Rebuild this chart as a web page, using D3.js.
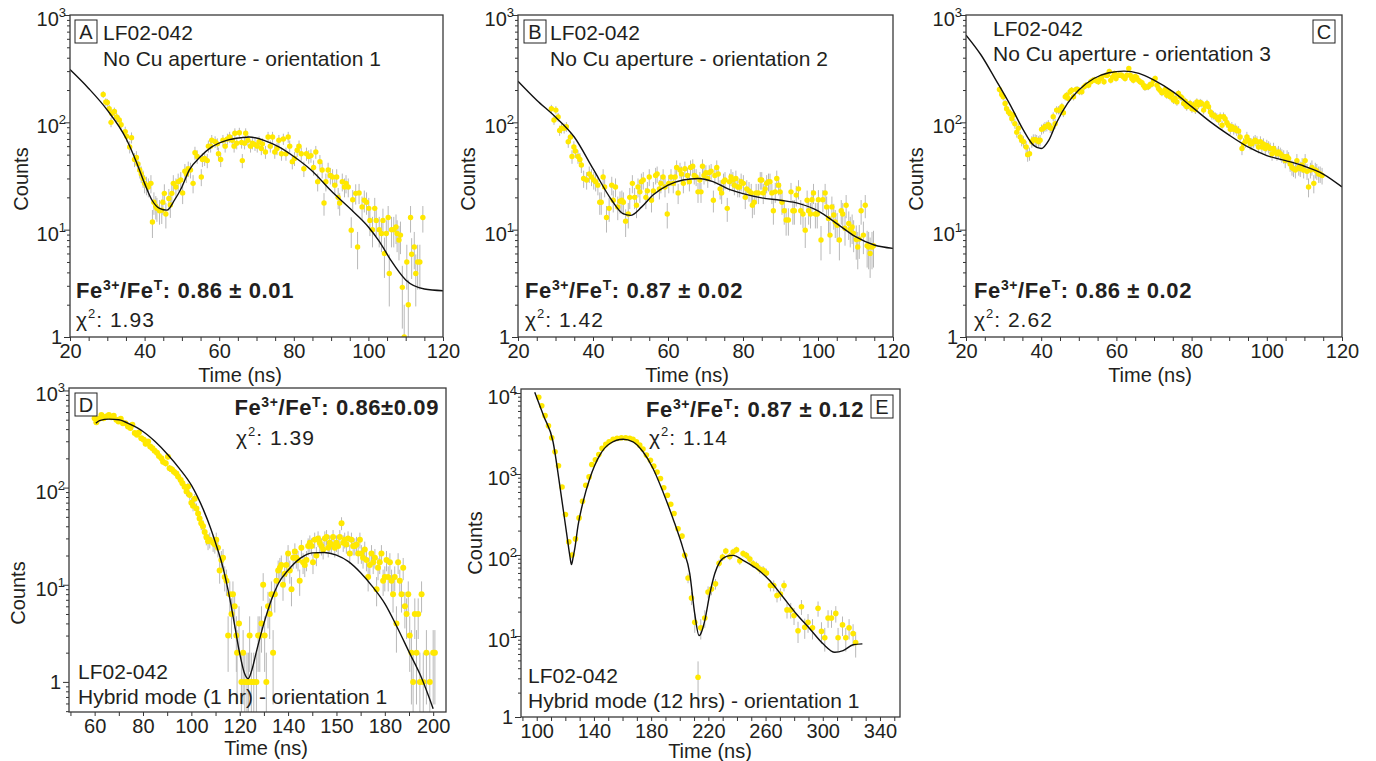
<!DOCTYPE html>
<html>
<head>
<meta charset="utf-8">
<script src="https://cdn.jsdelivr.net/npm/d3@7"></script>
<style>
  body { margin: 0; background: #fff; }
  svg text { font-family: "Liberation Sans", Arial, Helvetica, sans-serif; fill: #231f20; }
</style>
</head>
<body>
<svg id="chart" width="1376" height="761"></svg>
<script>
'use strict'

// ---- data: [time (ns), counts] ----
const pointsA = [[28.9,182],[29.6,155],[30.0,153],[30.5,134],[31.0,100],[31.2,121],[31.9,126],[32.5,112],[33.2,105],[33.7,95],[34.8,82],[35.2,74],[36.0,59],[36.5,72],[37.3,45],[37.8,47],[38.2,41],[38.7,36],[39.1,33],[39.6,30],[40.0,27],[40.5,26],[41.0,25],[41.7,27],[42.1,11.8],[42.5,18],[43.0,16.5],[43.3,15.8],[44.0,15],[44.6,15.2],[44.9,18],[45.3,21.8],[45.7,14],[46.5,19.5],[46.9,17],[47.3,21.8],[47.7,27],[48.4,25],[49.0,28],[49.7,29],[50.2,22],[50.8,35],[51.2,33],[51.7,37],[52.3,36],[53.0,27],[53.5,52],[54.1,48],[55.2,31],[55.5,45],[56.1,46],[56.8,44],[57.1,60],[57.7,60],[58.0,68],[58.9,66],[59.5,63],[59.8,51],[60.4,45],[61.0,68],[61.6,60],[62.2,70],[62.8,73],[63.5,68],[64.0,60],[64.2,79],[64.7,64],[65.4,80],[66.0,65],[66.2,44],[66.8,64],[67.1,79],[67.7,68],[68.4,60],[68.9,64],[69.6,62],[70.2,60],[70.7,66],[71.3,57],[71.6,63],[72.4,53],[73.1,73],[73.7,60],[74.3,73],[74.9,53],[75.5,57],[76.0,68],[76.7,51],[77.2,70],[77.9,51],[78.5,73],[78.9,60],[79.6,43],[80.2,46],[80.9,55],[81.4,60],[82.0,51],[82.7,37],[83.4,51],[84.0,48],[84.6,49],[85.3,38],[85.9,53],[86.4,28],[87.0,43],[87.6,36],[88.1,17.7],[88.6,28],[89.2,36],[89.8,32],[90.4,31],[91.0,26],[91.5,31],[91.9,20],[92.3,17.7],[93.0,28],[93.6,25],[94.0,27],[94.6,25],[95.4,9.9],[95.8,19],[96.6,21.8],[97.1,6.9],[97.5,22],[98.3,16.3],[98.9,18.8],[99.5,18],[100.1,15.8],[100.4,12.2],[101.1,10],[101.7,15.8],[102.1,12.2],[102.9,10],[103.5,9.2],[103.9,12.2],[104.3,6],[104.8,9.2],[105.3,13],[105.6,3.9],[106.2,10],[106.8,10],[107.4,10.6],[107.7,9.2],[108.2,8],[108.6,8.9],[109.1,2.9],[109.6,1.0],[110.3,5],[110.7,2.0],[111.3,13],[111.6,5.9],[112.3,6.9],[112.7,3.9],[113.2,5],[113.8,5],[114.6,13]];

const fitA = [[20,310],[25,207],[30,130],[35,71],[38,41],[40,27],[42,18.8],[44,15.8],[46,15.2],[48,18.8],[50,25],[52,36],[55,48],[58,59],[62,68],[66,72],[68,73],[72,68],[76,59],[80,48],[85,35],[90,23],[95,15.8],[100,10.6],[103,7.7],[106,5.2],[110,3.4],[115,2.8],[120,2.7]];

const pointsB = [[28.9,134],[29.6,105],[30.1,130],[30.7,112],[31.1,84],[31.6,88],[32.3,88],[32.9,91],[33.4,66],[34.0,73],[34.4,48],[34.9,59],[35.3,54],[36.0,48],[36.5,45],[36.9,40],[37.5,30],[38.3,29],[39.0,33],[39.6,31],[40.2,29],[40.7,28],[41.3,26],[41.8,18],[42.2,18],[42.7,31],[43.1,25],[43.6,13],[44.3,15.8],[45.0,26],[45.4,18.8],[46.0,25],[46.6,16.3],[47.2,18.4],[47.7,18.8],[48.1,18],[48.7,12],[49.4,14],[49.8,20],[50.5,27],[51.1,20],[51.6,16.9],[52.0,25],[52.5,22.5],[52.9,28],[53.4,29],[54.1,20],[54.5,23],[55.0,31],[55.6,18.8],[56.1,23],[56.7,32],[57.1,33],[57.7,24],[58.1,27],[58.7,31],[59.2,25],[59.8,14],[60.2,27],[60.8,31],[61.4,27],[61.9,31],[62.3,38],[62.7,22],[63.2,36],[63.6,33],[64.1,27],[64.5,37],[65.2,32],[65.7,28],[66.0,38],[66.6,39],[67.0,32],[67.5,31],[68.0,22.5],[68.5,29],[68.8,22.5],[69.2,39],[69.6,32],[70.1,34],[70.6,30],[71.0,34],[71.5,35],[72.1,18.8],[72.5,32],[73.0,38],[73.4,33],[73.9,24],[74.3,22],[74.8,28],[75.2,29],[75.8,15.8],[76.4,28],[76.8,31],[77.3,29],[77.7,26],[78.1,30],[78.6,25],[79.1,25],[79.5,28],[80.1,27],[80.6,20],[81.0,24],[81.6,23],[82.2,22],[82.5,16.9],[83.0,18],[83.5,22],[84.1,22],[84.6,29],[85.0,29],[85.4,22],[85.9,24],[86.3,27],[86.8,28],[87.2,28],[87.7,22],[88.1,15],[88.6,22.5],[89.0,30],[89.5,26],[89.9,22.5],[90.4,18],[91.0,15],[91.5,12.3],[92.1,12.3],[92.8,22.5],[93.3,15],[93.7,15],[94.2,21],[94.8,24],[95.4,15],[96.0,14],[96.6,9.9],[97.1,18.8],[97.5,15],[98.0,14],[98.4,19],[98.8,22],[99.3,14],[99.8,14],[100.1,19],[100.8,8],[101.3,19],[101.9,22],[102.3,16.3],[102.8,12.7],[103.2,8.9],[103.7,16.3],[104.2,13.7],[104.6,11.8],[105.1,11],[105.7,8],[106.2,15],[106.6,14],[107.2,10.3],[107.5,16.9],[108.2,11.4],[108.6,10],[109.1,10.6],[109.5,9.2],[110.2,8.1],[110.6,6.9],[111.0,8.2],[111.5,15],[112.1,8.9],[112.6,16.9],[113.1,7.1],[113.5,6.9],[113.9,6],[114.4,6.9],[114.8,7.1]];

const fitB = [[20,242],[25,161],[30,112],[35,73],[40,37],[45,18.8],[48,14.1],[50,13.6],[53,16.3],[56,21],[60,26],[64,29],[68,30],[72,28],[76,24],[80,21.7],[85,19.8],[90,18.8],[95,17.5],[100,15],[105,11.4],[110,8.6],[115,7.2],[120,6.7]];

const pointsC = [[28.9,202],[29.5,182],[29.9,173],[30.4,150],[30.8,134],[31.3,125],[31.7,121],[32.2,108],[32.6,117],[33.0,97],[33.5,81],[33.9,88],[34.4,73],[34.8,68],[35.3,66],[36.0,59],[36.4,50],[36.9,51],[37.5,66],[37.9,69],[38.4,69],[38.8,68],[39.3,66],[39.7,68],[40.1,86],[40.6,88],[41.0,91],[41.5,92],[41.9,95],[42.4,89],[42.8,88],[43.2,113],[43.7,97],[44.1,130],[44.6,130],[45.0,130],[45.5,140],[45.9,123],[46.4,173],[46.8,179],[47.2,167],[47.7,193],[48.1,199],[48.6,173],[49.3,202],[49.7,202],[50.2,193],[50.8,193],[51.4,214],[51.9,222],[52.6,222],[53.2,239],[53.7,246],[54.2,250],[54.8,243],[55.2,239],[55.7,256],[56.1,265],[56.7,239],[57.3,275],[57.6,275],[58.1,298],[58.5,246],[59.0,265],[59.5,285],[59.9,256],[60.6,275],[61.0,275],[61.4,275],[61.9,265],[62.3,256],[62.8,275],[63.3,318],[63.7,275],[64.1,256],[64.5,246],[65.0,267],[65.4,262],[65.9,246],[66.3,239],[66.8,234],[67.2,222],[67.6,211],[68.1,214],[68.5,214],[69.0,226],[69.4,226],[69.9,246],[70.3,256],[70.8,222],[71.2,207],[71.6,199],[72.1,189],[72.5,193],[73.0,202],[73.4,179],[73.9,193],[74.3,173],[74.7,182],[75.2,161],[75.6,167],[76.1,155],[76.5,186],[77.0,173],[77.4,170],[77.9,150],[78.3,157],[78.7,140],[79.2,145],[79.6,150],[80.1,134],[80.5,145],[81.0,131],[81.4,155],[81.8,145],[82.3,153],[82.7,150],[83.2,130],[83.6,142],[84.1,150],[84.5,140],[85.0,125],[85.4,117],[85.8,117],[86.3,113],[86.7,111],[87.2,105],[87.6,113],[88.1,94],[88.5,113],[88.9,108],[89.4,99],[89.8,94],[90.3,86],[90.7,91],[91.2,86],[91.6,88],[92.0,84],[92.5,83],[92.9,73],[93.4,57],[93.8,63],[94.3,66],[94.7,73],[95.2,68],[95.6,63],[96.0,63],[96.5,66],[96.9,68],[97.4,66],[97.8,59],[98.3,66],[98.7,59],[99.1,63],[99.6,57],[100.0,61],[100.5,59],[100.9,57],[101.4,51],[101.8,57],[102.3,53],[102.7,51],[103.1,53],[103.6,51],[104.0,49],[104.5,48],[104.9,44],[105.4,48],[105.8,46],[106.2,41],[106.7,38],[107.1,37],[107.6,36],[108.0,44],[108.5,38],[108.9,37],[109.4,40],[109.8,36],[110.2,44],[110.7,35],[111.1,25],[111.6,36],[112.0,38],[112.5,27],[112.9,36],[113.3,35],[113.8,33],[114.2,33],[114.7,32]];

const fitC = [[20,650],[24,424],[28,246],[32,140],[35,88],[38,61],[40,57],[42,68],[44,98],[47,150],[50,200],[54,256],[58,290],[62,300],[66,286],[70,247],[75,193],[80,140],[85,101],[90,76],[95,59],[100,49],[105,44],[110,39],[115,33],[120,25]];

const pointsD = [[60.0,519],[60.7,470],[61.8,510],[62.8,560],[63.7,519],[64.8,540],[65.9,560],[66.9,530],[67.9,550],[69.0,500],[69.9,480],[70.8,510],[71.7,460],[72.7,460],[73.8,425],[74.8,410],[75.6,444],[76.6,364],[77.5,350],[78.3,370],[79.3,323],[80.3,310],[81.1,282],[82.1,298],[83.0,265],[83.9,254],[84.8,240],[85.8,229],[86.6,211],[87.6,200],[88.3,185],[89.4,178],[90.3,208],[91.0,158],[92.0,154],[92.8,146],[93.8,140],[94.5,130],[95.6,120],[96.3,111],[97.2,102],[98.0,91],[98.6,102],[99.3,84],[100.0,70],[100.7,65],[101.4,77],[102.1,61],[102.8,54],[103.4,48],[104.1,43],[104.8,40],[105.5,35],[106.2,31],[106.9,28],[107.6,29],[109.0,27],[109.7,26],[110.3,29],[111.0,24],[111.7,14],[112.4,18],[113.1,19],[113.8,12],[114.5,11],[115.2,3],[115.9,8],[116.6,5],[117.2,8],[117.9,6],[118.6,3],[118.9,2],[119.7,4],[120.7,1],[121.4,2],[122.1,1],[123.0,1],[123.6,1],[124.1,3],[124.8,1],[125.8,1],[126.9,1],[127.6,3],[128.3,3],[129.0,4],[129.7,10],[130.3,3],[131.0,1],[131.7,6],[132.4,5],[133.1,8],[133.8,2],[134.5,8],[135.2,11],[135.9,14],[136.6,15],[137.2,16],[137.9,10],[138.6,13],[139.3,16],[140.0,21],[140.7,14],[141.4,9],[142.1,19],[142.8,22],[143.4,19],[144.1,18],[144.8,11],[145.5,24],[146.2,17],[146.9,16],[147.6,18],[148.3,25],[149.0,27],[149.7,25],[150.3,17],[151.0,29],[151.7,20],[152.4,30],[153.1,27],[153.8,25],[154.5,23],[155.2,30],[155.9,31],[156.6,24],[157.2,27],[157.9,26],[158.6,31],[159.3,24],[160.0,27],[160.7,25],[161.4,31],[162.1,43],[162.8,27],[163.4,29],[164.1,26],[164.8,30],[165.5,21],[166.2,29],[166.9,25],[167.6,25],[168.3,26],[169.0,21],[169.7,29],[170.3,21],[171.0,19],[171.7,23],[172.4,18],[173.1,12],[173.8,16],[174.5,21],[175.2,17],[175.9,19],[176.6,9],[177.2,15],[177.9,17],[178.6,21],[179.3,11],[180.0,12],[180.7,18],[181.4,12],[182.1,17],[182.8,11],[183.4,8],[184.1,12],[184.8,4],[185.5,17],[186.2,11],[186.9,8],[187.6,15],[188.3,6],[189.0,5],[189.7,8],[190.3,3],[191.0,2],[191.7,1],[192.4,5],[193.1,2],[193.8,5],[194.5,1],[195.2,8],[195.9,1],[197.2,2],[198.6,1],[200.0,2],[200.7,2]];

const fitD = [[60.5,460],[62,490],[66,507],[70,500],[75,444],[80,378],[85,298],[90,222],[95,158],[100,106],[105,59],[108,38],[110,27],[113,15.3],[116,7],[118,3.7],[120,1.96],[122,1.22],[123.5,1.08],[125,1.32],[127,2.1],[130,4],[133,6.9],[136,10.3],[140,14.1],[145,18.7],[150,21.3],[155,21.5],[160,20.2],[165,17.3],[170,13.3],[175,9.5],[180,6.4],[185,3.7],[190,2.04],[195,1.13],[200,0.53]];

const pointsE = [[101.4,8850],[103.5,6960],[105.8,5250],[108.2,3930],[110.5,2800],[112.8,1880],[115.2,1260],[117.7,692],[120.1,316],[122.4,145],[124.7,100],[127.1,158],[129.6,287],[132.0,460],[134.3,725],[136.6,920],[138.5,1310],[141.0,1500],[143.4,1740],[145.7,2070],[148.3,2320],[150.6,2500],[153.4,2680],[156.2,2750],[159.2,2800],[162.2,2800],[165.0,2750],[167.3,2680],[169.7,2500],[172.0,2270],[174.3,2030],[176.7,1710],[179.5,1480],[181.8,1250],[184.1,1060],[186.5,880],[188.8,675],[191.4,547],[193.7,423],[196.0,325],[198.8,211],[201.6,171],[203.5,99],[205.8,52],[208.2,29.5],[210.5,14.8],[212.8,3.1],[214.7,12.6],[217.5,16.7],[219.8,35],[222.2,38],[225.0,44],[227.5,79],[229.9,94],[232.2,112],[235.0,96],[237.3,109],[239.7,116],[242.0,85],[244.3,104],[246.6,99],[249.0,89],[251.3,78],[253.6,74],[255.9,67],[258.3,65],[260.6,60],[263.4,42],[265.7,42],[268.0,31.6],[270.4,33],[272.9,42],[275.0,21],[277.6,21],[279.9,17.9],[282.7,11.6],[285.1,23],[287.4,12.8],[289.7,14.8],[292.8,12.6],[296.7,22],[299.1,11.4],[301.4,9.5],[303.7,16.7],[306.1,16.7],[309.1,19],[310.7,9.5],[313.8,13.7],[316.1,9.5],[318.4,12.6],[321.2,10.7],[323.0,8.3]];

const fitE = [[98.6,10200],[105,5130],[111.4,2500],[116.1,725],[120.8,190],[123.1,99],[124.3,76],[125.5,95],[126.6,120],[128.9,232],[132.4,452],[137.1,880],[144.1,1710],[151.2,2380],[160.4,2680],[167.3,2500],[174.3,1880],[181.3,1170],[188.3,600],[195.3,280],[202.3,120],[207,59],[210.5,18.7],[213.5,10.1],[214.5,10.5],[217.5,15.5],[221,33],[224.5,59],[228,82],[232.7,96],[237.3,99],[244.3,86],[253.6,68],[262.9,48.5],[272.2,30.3],[281.6,18.7],[290.9,12.3],[300.2,8.0],[308.4,6.3],[314.2,6.6],[321.2,7.8],[327.7,8.0]];

// ---- labels ----
const panelLetters = ['A', 'B', 'C', 'D', 'E'];
const sampleName = 'LF02-042';
const modeLabels = ['No Cu aperture - orientation 1', 'No Cu aperture - orientation 2', 'No Cu aperture - orientation 3',
                    'Hybrid mode (1 hr) - orientation 1', 'Hybrid mode (12 hrs) - orientation 1'];
const ratioLabels = ['0.86 \u00b1 0.01', '0.87 \u00b1 0.02', '0.86 \u00b1 0.02', '0.86\u00b10.09', '0.87 \u00b1 0.12'];
const chiLabels = ['1.93', '1.42', '2.62', '1.39', '1.14'];
const xTickLabelsABC = [20, 40, 60, 80, 100, 120];
const xTickLabelsD = ['60', '80', '100', '120', '140', '150', '180', '200'];   // as printed (160 position reads "150")
const xTickLabelsE = [100, 140, 180, 220, 260, 300, 340];

// ---- layout ----
const panels = [
  { points: pointsA, fit: fitA, left: 70, right: 443, top: 15, bottom: 337, xDomain: [20, 120], yDomain: [1, 1000],
    xTicks: d3.range(20, 121, 5), xLabelAt: xTickLabelsABC, xLabelText: xTickLabelsABC, r: 2.7,
    letterBox: [75, 20], titleX: 103, titleY: [40, 66], ratio: [76, 298, 'start'], chi: [76, 327],
    countsPos: [28, 179], timePos: [240, 382] },
  { points: pointsB, fit: fitB, left: 518, right: 893, top: 15, bottom: 337, xDomain: [20, 120], yDomain: [1, 1000],
    xTicks: d3.range(20, 121, 5), xLabelAt: xTickLabelsABC, xLabelText: xTickLabelsABC, r: 2.7,
    letterBox: [524, 20], titleX: 550, titleY: [40, 66], ratio: [525, 298, 'start'], chi: [525, 327],
    countsPos: [475, 179], timePos: [687, 382] },
  { points: pointsC, fit: fitC, left: 966, right: 1342, top: 15, bottom: 337, xDomain: [20, 120], yDomain: [1, 1000],
    xTicks: d3.range(20, 121, 5), xLabelAt: xTickLabelsABC, xLabelText: xTickLabelsABC, r: 2.7,
    letterBox: [1313, 20], titleX: 993, titleY: [36, 61], ratio: [974, 298, 'start'], chi: [974, 327],
    countsPos: [923, 179], timePos: [1150, 382] },
  { points: pointsD, fit: fitD, left: 69, right: 446, top: 388, bottom: 712, xDomain: [49.4, 205.3], yDomain: [0.49, 1060],
    xTicks: d3.range(50, 206, 10), xLabelAt: [60, 80, 100, 120, 140, 160, 180, 200], xLabelText: xTickLabelsD, r: 3,
    letterBox: [75, 393], titleX: 78, titleY: [679, 704], ratio: [439, 415, 'end'], chi: [236, 445],
    countsPos: [25, 593], timePos: [266, 755] },
  { points: pointsE, fit: fitE, left: 521, right: 900, top: 389, bottom: 717, xDomain: [89, 354], yDomain: [1, 11200],
    xTicks: d3.range(90, 351, 10), xLabelAt: xTickLabelsE, xLabelText: xTickLabelsE, r: 2.8,
    letterBox: [871, 395], titleX: 528, titleY: [683, 708], ratio: [864, 417, 'end'], chi: [649, 445],
    countsPos: [482, 543], timePos: [710, 758] }
];

const countError = c => Math.sqrt(c);   // Poisson counting error of each bin
const svg = d3.select('#chart');

function logTicks(domain) {
  const out = [];
  for (let k = Math.floor(Math.log10(domain[0])); k <= Math.ceil(Math.log10(domain[1])); k++) {
    for (let m = 1; m < 10; m++) {
      const v = +(m * Math.pow(10, k)).toPrecision(6);
      if (v >= domain[0] && v <= domain[1]) out.push(v);
    }
  }
  return out;
}

panels.forEach((p, i) => {
  const x = d3.scaleLinear().domain(p.xDomain).range([p.left, p.right]);
  const y = d3.scaleLog().domain(p.yDomain).range([p.bottom, p.top]);
  const g = svg.append('g');

  g.append('clipPath').attr('id', 'clip' + i)
    .append('rect').attr('x', p.left).attr('y', p.top)
    .attr('width', p.right - p.left).attr('height', p.bottom - p.top);

  const plot = g.append('g').attr('clip-path', `url(#clip${i})`);

  // error bars
  plot.append('g').selectAll('line').data(p.points).join('line')
    .attr('x1', d => x(d[0])).attr('x2', d => x(d[0]))
    .attr('y1', d => y(d[1] + countError(d[1])))
    .attr('y2', d => y(Math.max(d[1] - countError(d[1]), p.yDomain[0] * 0.8)))
    .attr('stroke', '#b8b8b8').attr('stroke-width', 1);

  // data points
  plot.append('g').selectAll('circle').data(p.points).join('circle')
    .attr('cx', d => x(d[0])).attr('cy', d => y(d[1])).attr('r', p.r)
    .attr('fill', '#ffe800');

  // fit
  plot.append('path').datum(p.fit)
    .attr('d', d3.line().x(d => x(d[0])).y(d => y(d[1])).curve(d3.curveMonotoneX))
    .attr('fill', 'none').attr('stroke', '#111').attr('stroke-width', 1.4);

  // x axis
  const labelMap = new Map(p.xLabelAt.map((v, k) => [v, String(p.xLabelText[k])]));
  const xAxis = g.append('g').attr('transform', `translate(0,${p.bottom})`)
    .call(d3.axisBottom(x).tickValues(p.xTicks).tickSize(4).tickPadding(3)
      .tickFormat(d => labelMap.get(d) || ''));
  xAxis.select('.domain').remove();
  xAxis.selectAll('line').attr('stroke', '#333');
  xAxis.selectAll('text').attr('font-size', 20).attr('fill', '#231f20')
    .style('font-family', '"Liberation Sans", Arial, Helvetica, sans-serif');

  // y axis: minor and major ticks
  const allTicks = logTicks(p.yDomain);
  const majors = allTicks.filter(v => Math.abs(Math.log10(v) - Math.round(Math.log10(v))) < 1e-9);
  const minors = allTicks.filter(v => !majors.includes(v));
  const yMinor = g.append('g').attr('transform', `translate(${p.left},0)`)
    .call(d3.axisLeft(y).tickValues(minors).tickSize(3).tickFormat(''));
  const yMajor = g.append('g').attr('transform', `translate(${p.left},0)`)
    .call(d3.axisLeft(y).tickValues(majors).tickSize(6).tickFormat(''));
  [yMinor, yMajor].forEach(a => { a.select('.domain').remove(); a.selectAll('line').attr('stroke', '#333'); });

  majors.forEach(v => {
    const e = Math.round(Math.log10(v));
    const t = g.append('text').attr('text-anchor', 'end').attr('font-size', 20);
    if (e === 0) {
      t.attr('x', p.left - 8).attr('y', y(v) + 7).text('1');
    } else {
      t.attr('x', p.left - 4).attr('y', y(v) + 11);
      t.append('tspan').text('10');
      t.append('tspan').attr('dy', -9).attr('font-size', 13).text(e);
    }
  });

  // frame
  g.append('rect').attr('x', p.left).attr('y', p.top)
    .attr('width', p.right - p.left).attr('height', p.bottom - p.top)
    .attr('fill', 'none').attr('stroke', '#3a3a3a').attr('stroke-width', 1.3);

  // axis titles
  g.append('text').attr('transform', `translate(${p.countsPos[0]},${p.countsPos[1]}) rotate(-90)`)
    .attr('text-anchor', 'middle').attr('font-size', 20).text('Counts');
  g.append('text').attr('x', p.timePos[0]).attr('y', p.timePos[1])
    .attr('text-anchor', 'middle').attr('font-size', 20).text('Time (ns)');

  // panel letter box
  g.append('rect').attr('x', p.letterBox[0]).attr('y', p.letterBox[1]).attr('width', 22).attr('height', 23)
    .attr('fill', '#fff').attr('stroke', '#222').attr('stroke-width', 1);
  g.append('text').attr('x', p.letterBox[0] + 11).attr('y', p.letterBox[1] + 19)
    .attr('text-anchor', 'middle').attr('font-size', 20).text(panelLetters[i]);

  // sample name and mode
  g.append('text').attr('x', p.titleX).attr('y', p.titleY[0]).attr('font-size', 21).text(sampleName);
  g.append('text').attr('x', p.titleX).attr('y', p.titleY[1]).attr('font-size', 21).text(modeLabels[i]);

  // Fe3+/FeT ratio
  const rt = g.append('text').attr('x', p.ratio[0]).attr('y', p.ratio[1]).attr('text-anchor', p.ratio[2])
    .attr('font-size', 22).attr('font-weight', 'bold').attr('letter-spacing', 0.6);
  rt.append('tspan').text('Fe');
  rt.append('tspan').attr('dy', -8).attr('font-size', 14).text('3+');
  rt.append('tspan').attr('dy', 8).text('/Fe');
  rt.append('tspan').attr('dy', -8).attr('font-size', 14).text('T');
  rt.append('tspan').attr('dy', 8).text(': ' + ratioLabels[i]);

  // chi-squared
  const ct = g.append('text').attr('x', p.chi[0]).attr('y', p.chi[1]).attr('font-size', 21).attr('letter-spacing', 1);
  ct.append('tspan').text('\u03c7');
  ct.append('tspan').attr('dy', -9).attr('font-size', 13).text('2');
  ct.append('tspan').attr('dy', 9).text(': ' + chiLabels[i]);
});
</script>
</body>
</html>
